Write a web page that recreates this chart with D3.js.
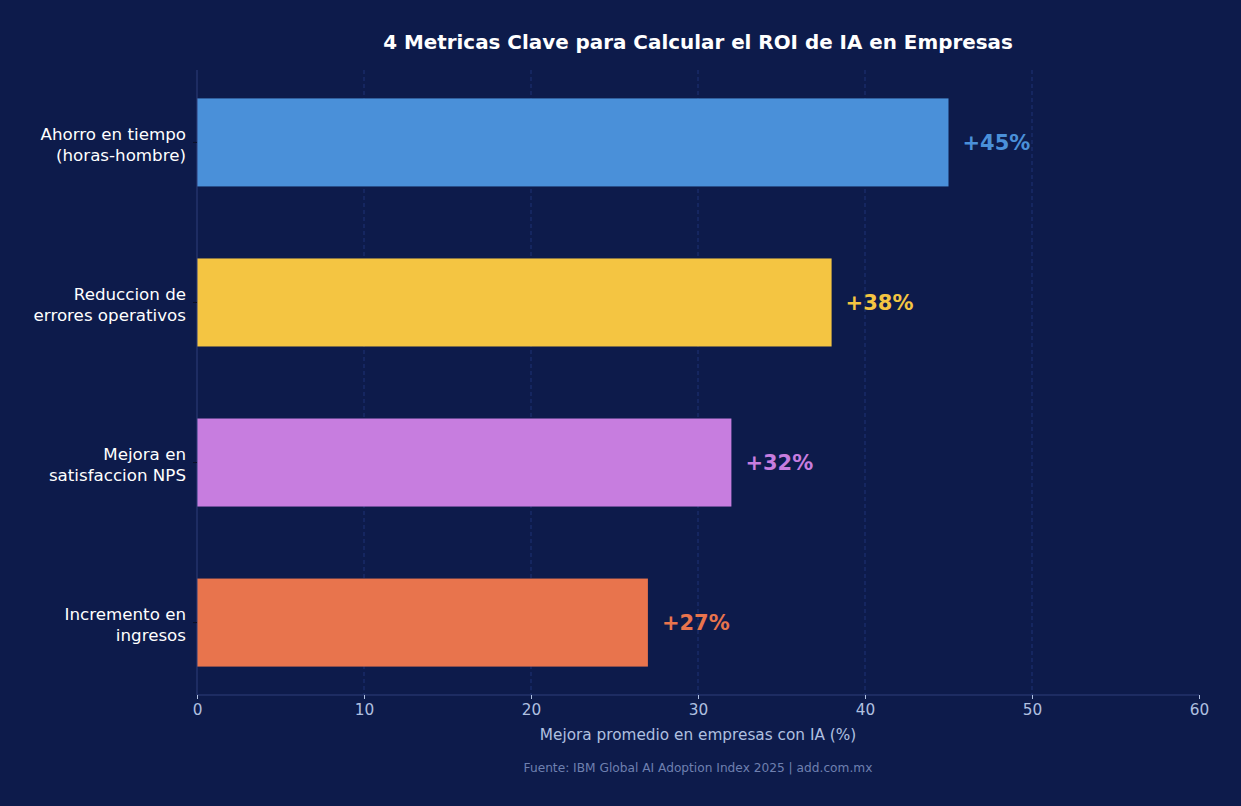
<!DOCTYPE html>
<html lang="es">
<head>
<meta charset="UTF-8" />
<title>4 Metricas Clave ROI IA</title>
<script src="https://cdn.jsdelivr.net/npm/d3@7"></script>
<style>
    body { margin: 0; padding: 0; background: #0d1b4b; }
    svg { display: block; font-family: "DejaVu Sans", sans-serif; }
</style>
</head>
<body>
<svg width="1241" height="806"></svg>
<script>
// data
var categories = [
    ['Ahorro en tiempo', '(horas-hombre)'],
    ['Reduccion de', 'errores operativos'],
    ['Mejora en', 'satisfaccion NPS'],
    ['Incremento en', 'ingresos']
];
var values = [45, 38, 32, 27];
var colors = ['#4a90d9', '#f4c542', '#c77ddf', '#e8744d'];
var xTicks = [0, 10, 20, 30, 40, 50, 60];

var svg = d3.select('svg'),
    margin = { top: 70, right: 42, bottom: 111, left: 197 },
    width = +svg.attr('width') - margin.left - margin.right,
    height = +svg.attr('height') - margin.top - margin.bottom;

svg.append('rect').attr('width', 1241).attr('height', 806).attr('fill', '#0d1b4b');

var g = svg.append('g').attr('transform', 'translate(' + margin.left + ',' + margin.top + ')');

var x = d3.scaleLinear().domain([0, 60]).range([0, width]);
// matplotlib-style categorical axis: bar height 0.55, 5% margins
var barH = 0.55;
var lo = -barH / 2, hi = values.length - 1 + barH / 2, pad = (hi - lo) * 0.05;
var y = d3.scaleLinear().domain([lo - pad, hi + pad]).range([0, height]);

// grid
g.selectAll('.grid').data(xTicks.slice(1, -1)).enter().append('line')
    .attr('x1', d => x(d)).attr('x2', d => x(d))
    .attr('y1', 0).attr('y2', height)
    .attr('stroke', '#1f3276').attr('stroke-width', 1)
    .attr('stroke-dasharray', '4,3');

// bars
g.selectAll('.bar').data(values).enter().append('rect')
    .attr('x', x(0))
    .attr('y', (d, i) => y(i - barH / 2))
    .attr('width', d => x(d) - x(0))
    .attr('height', (d, i) => y(i + barH / 2) - y(i - barH / 2))
    .attr('fill', (d, i) => colors[i]);

// value labels
g.selectAll('.val').data(values).enter().append('text')
    .attr('x', d => x(d) + 14)
    .attr('y', (d, i) => y(i))
    .attr('dy', '0.35em')
    .attr('fill', (d, i) => colors[i])
    .attr('font-size', 21).attr('font-weight', 'bold')
    .text(d => '+' + d + '%');

// spines
g.append('line').attr('x1', 0).attr('x2', 0).attr('y1', 0).attr('y2', height)
    .attr('stroke', '#2e3f7a');
g.append('line').attr('x1', 0).attr('x2', width).attr('y1', height).attr('y2', height)
    .attr('stroke', '#2e3f7a');

// x axis
var xa = g.append('g').attr('transform', 'translate(0,' + height + ')')
    .call(d3.axisBottom(x).tickValues(xTicks).tickSize(4).tickPadding(5));
xa.select('.domain').remove();
xa.selectAll('line').attr('stroke', '#b0c0e0');
xa.selectAll('text').attr('fill', '#b0c0e0').attr('font-size', 15.3)
    .attr('font-family', '"DejaVu Sans", sans-serif');

// y labels
var yl = g.selectAll('.ylab').data(categories).enter().append('g')
    .attr('transform', (d, i) => 'translate(0,' + y(i) + ')');
yl.append('line').attr('x1', -4).attr('x2', 0).attr('stroke', '#0a0f25');
yl.append('text')
    .attr('x', -11).attr('text-anchor', 'end')
    .attr('fill', '#ffffff').attr('font-size', 16.7)
    .selectAll('tspan').data(d => d).enter().append('tspan')
    .attr('x', -11)
    .attr('y', (d, i, n) => (i - (n.length - 1) / 2) * 21.5 + 8)
    .text(d => d);

// title & labels
svg.append('text').attr('x', margin.left + width / 2).attr('y', 49)
    .attr('text-anchor', 'middle').attr('fill', '#ffffff')
    .attr('font-size', 19.9).attr('font-weight', 'bold')
    .text('4 Metricas Clave para Calcular el ROI de IA en Empresas');

svg.append('text').attr('x', margin.left + width / 2).attr('y', 740)
    .attr('text-anchor', 'middle').attr('fill', '#b0c0e0').attr('font-size', 15.3)
    .text('Mejora promedio en empresas con IA (%)');

svg.append('text').attr('x', margin.left + width / 2).attr('y', 772)
    .attr('text-anchor', 'middle').attr('fill', '#6f80b0').attr('font-size', 12.2)
    .text('Fuente: IBM Global AI Adoption Index 2025 | add.com.mx');
</script>
</body>
</html>
